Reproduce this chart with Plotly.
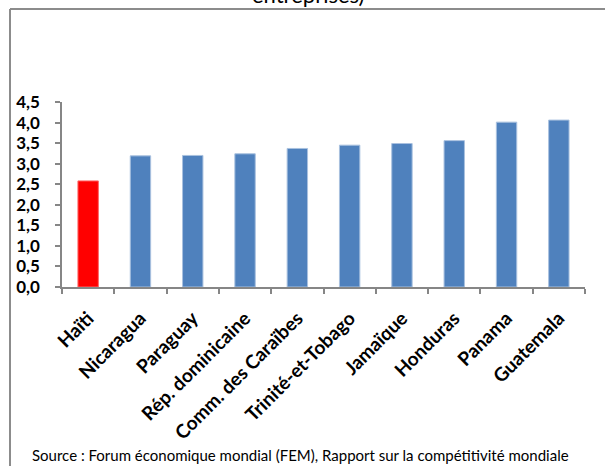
import plotly.graph_objects as go

categories = ["Haïti", "Nicaragua", "Paraguay", "Rép. dominicaine", "Comm. des Caraïbes",
              "Trinité-et-Tobago", "Jamaïque", "Honduras", "Panama", "Guatemala"]
values = [2.58, 3.19, 3.20, 3.24, 3.37, 3.45, 3.49, 3.56, 4.01, 4.06]
bar_colors = ["#FF0000"] + ["#4F81BD"] * 9
line_colors = ["#FF6666"] + ["#A9C1DF"] * 9
y_tickvals = [0, 0.5, 1.0, 1.5, 2.0, 2.5, 3.0, 3.5, 4.0, 4.5]
y_ticktext = ["0,0", "0,5", "1,0", "1,5", "2,0", "2,5", "3,0", "3,5", "4,0", "4,5"]
title_tail = "entreprises)"
source_text = "Source : Forum économique mondial (FEM), Rapport sur la compétitivité mondiale"

W, H = 605, 466
L, R, T, B = 62, 20, 102, 179
pw = W - L - R
ph = H - T - B

def px_x(x):
    return (x - L) / pw

def px_y(y):
    return (H - B - y) / ph

fig = go.Figure(go.Bar(
    x=categories, y=values,
    marker=dict(color=bar_colors, line=dict(color=line_colors, width=1)),
    width=0.39,
))

fig.update_layout(
    width=W, height=H,
    margin=dict(l=L, r=R, t=T, b=B, autoexpand=False),
    plot_bgcolor="white", paper_bgcolor="white",
    showlegend=False,
    font=dict(family="Lato, sans-serif", color="black"),
    xaxis=dict(
        type="category", tickangle=-45, tickson="boundaries",
        ticks="outside", ticklen=5, tickcolor="#868686", tickwidth=1.5,
        showline=True, linecolor="#868686", linewidth=1.5,
        showgrid=False, ticklabelstandoff=11,
        tickfont=dict(family="Lato, sans-serif", size=19, color="black", weight="bold"),
        range=[-0.5, 9.5],
    ),
    yaxis=dict(
        range=[0, 4.5], tickvals=y_tickvals, ticktext=y_ticktext,
        ticks="outside", ticklen=5, tickcolor="#868686", tickwidth=1.5,
        showline=True, linecolor="#868686", linewidth=1.5,
        showgrid=False, zeroline=False, ticklabelstandoff=12,
        tickfont=dict(family="Lato, sans-serif", size=17, color="black", weight="bold"),
    ),
    shapes=[
        dict(type="line", xref="paper", yref="paper",
             x0=px_x(10), x1=px_x(10), y0=px_y(9), y1=px_y(480),
             line=dict(color="#8C8C8C", width=2)),
        dict(type="line", xref="paper", yref="paper",
             x0=px_x(10), x1=px_x(620), y0=px_y(9), y1=px_y(9),
             line=dict(color="#8C8C8C", width=2)),
    ],
    annotations=[
        dict(text=title_tail, xref="paper", yref="paper",
             x=px_x(308), y=px_y(10), xanchor="center", yanchor="bottom",
             showarrow=False, font=dict(family="Lato, sans-serif", size=22, color="black")),
        dict(text=source_text, xref="paper", yref="paper",
             x=px_x(300), y=px_y(455), xanchor="center", yanchor="middle",
             showarrow=False, font=dict(family="Lato, sans-serif", size=15, color="black")),
    ],
)

fig.write_html("out.html", config={"displayModeBar": False},
               post_script="document.body.style.margin='0';")
